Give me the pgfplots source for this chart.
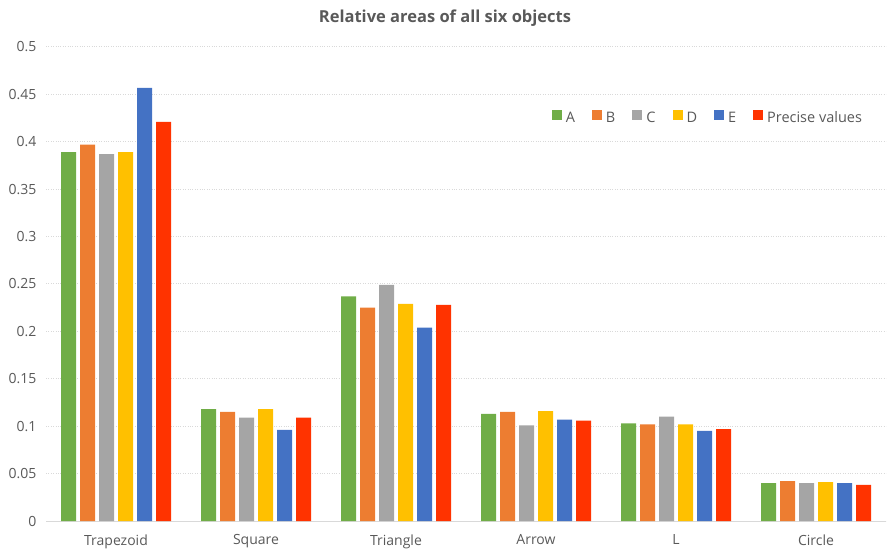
\documentclass[border=0pt]{standalone}
\usepackage{fontspec}
\setmainfont{Open Sans}
\usepackage{pgfplots}
\pgfplotsset{compat=1.18}
\definecolor{cA}{HTML}{70AD47}
\definecolor{cB}{HTML}{ED7D31}
\definecolor{cC}{HTML}{A5A5A5}
\definecolor{cD}{HTML}{FFC000}
\definecolor{cE}{HTML}{4472C4}
\definecolor{cP}{HTML}{FF3300}
\definecolor{txt}{HTML}{595959}
\definecolor{grd}{HTML}{D9D9D9}
\begin{document}
\begin{tikzpicture}
\useasboundingbox (-46pt,-35pt) rectangle (844pt,521pt);
\begin{axis}[
  at={(0pt,0pt)}, anchor=south west,
  scale only axis, width=840pt, height=474pt,
  xmin=-0.5, xmax=5.5, ymin=0, ymax=0.5,
  ybar=4pt, bar width=15pt,
  xtick={0,1,2,3,4,5},
  xticklabels={Trapezoid,Square,Triangle,Arrow,L,Circle},
  ytick={0,0.05,...,0.5},
  /pgf/number format/assume math mode=true,
  /pgf/number format/fixed, /pgf/number format/precision=2,
  yticklabel style={/pgf/number format/fixed,/pgf/number format/precision=2},
  ymajorgrids, grid style={grd, dotted, line width=1pt},
  axis lines*=left,
  x axis line style={draw=grd, line width=0.8pt, -},
  y axis line style={draw=none},
  major tick length=0pt,
  tick label style={font=\fontsize{14}{16}\selectfont, text=txt},
  xticklabel style={yshift=-10pt},
  yticklabel style={xshift=-6pt},
  legend style={at={(0.98,0.85)}, anchor=east, draw=none, fill=none,
    legend columns=-1, font=\fontsize{14.5}{17}\selectfont, text=txt,
    nodes={inner xsep=4pt},
    /tikz/every even column/.append style={column sep=13pt}},
  legend image code/.code={\fill[#1] (0pt,-2pt) rectangle (10pt,8pt);},
  every axis plot/.append style={draw=none},
]
\addplot[fill=cA] coordinates {(0,0.389) (1,0.118) (2,0.237) (3,0.113) (4,0.103) (5,0.040)};
\addplot[fill=cB] coordinates {(0,0.397) (1,0.115) (2,0.225) (3,0.115) (4,0.102) (5,0.042)};
\addplot[fill=cC] coordinates {(0,0.387) (1,0.109) (2,0.249) (3,0.101) (4,0.110) (5,0.040)};
\addplot[fill=cD] coordinates {(0,0.389) (1,0.118) (2,0.229) (3,0.116) (4,0.102) (5,0.041)};
\addplot[fill=cE] coordinates {(0,0.457) (1,0.096) (2,0.204) (3,0.107) (4,0.095) (5,0.040)};
\addplot[fill=cP] coordinates {(0,0.421) (1,0.109) (2,0.228) (3,0.106) (4,0.097) (5,0.038)};
\legend{A,B,C,D,E,Precise values}
\end{axis}
\node[font=\bfseries\fontsize{16.5}{19}\selectfont, text=txt] at (399pt,503pt) {Relative areas of all six objects};
\end{tikzpicture}
\end{document}
